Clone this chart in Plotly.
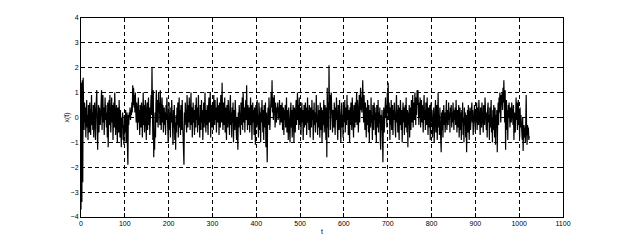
import plotly.graph_objects as go

# Signal values x(t), 64 per row
row00 = [-3.7, 1.4, -3.4, 1.5, -2.6, 1.6, 0.3, -0.5, 0.6, -0.2, 0.4, -0.8, 0.2, 0.7, -0.4, 0.1, -0.9, 0.5, 0.3, -0.6, 0.6, -0.1, -0.7, 0.4, 0.9, -0.3, 0.2, -0.5, 0.5, -0.8, 0.1, 0.6, -0.2, -0.9, 0.3, 0.8, 1.1, -0.4, -1.3, -0.2, 0.5, -0.6, 0.4, 0.1, -0.3, 0.7, 0.2, 1.1, -0.5, 0.6, 0.9, -0.2, 0.4, -0.7, 0.3, 0.8, -0.1, 0.5, -0.4, 0.2, -0.8, 0.6, -1.2, 0.3]
row01 = [0.7, -0.3, 0.9, 0.1, -0.6, 0.4, 0.8, -0.2, 0.5, -0.9, 0.2, 0.6, -0.4, 1.0, 0.3, -0.7, 0.1, 0.5, -0.3, -1.0, 0.4, 0.2, -0.6, 0.7, -0.1, -0.8, 0.3, -0.5, -1.2, 0.0, -0.4, 0.2, -0.9, -0.3, -1.1, 0.1, -0.6, -0.2, 0.3, -1.0, -0.5, 0.2, -1.2, -1.9, 0.1, -0.3, 0.2, 0.0, 0.4, -0.1, 0.3, 0.1, 0.6, 0.2, 1.3, 0.5, 1.2, 0.4, 0.9, 0.2, 1.0, 0.3, -0.2, 0.6]
row02 = [0.1, -0.5, 0.4, 0.8, -0.2, 0.3, -0.7, 0.5, 0.0, -0.4, 0.6, 0.2, -0.8, 0.4, 1.0, -0.3, 0.5, -0.6, 0.2, 0.7, -0.1, -0.9, 0.3, 0.6, -0.5, 0.1, 0.8, -0.3, 0.4, -0.7, 0.2, -0.2, 0.9, 0.1, 2.0, 0.4, -0.9, 1.1, -1.6, -0.6, -1.3, 0.2, -0.8, 0.5, 1.1, -0.2, 0.7, 0.3, -0.4, 1.0, 0.2, 0.6, -0.3, 1.1, 0.4, -0.5, 0.3, 0.8, -0.2, 0.5, -0.6, 0.1, 0.4, -0.3]
row03 = [0.2, -0.7, 0.5, -0.1, 0.8, -0.4, 0.3, -1.0, 0.1, 0.6, -0.5, 0.2, -0.8, 0.4, -0.2, 0.7, -0.6, 0.0, -1.1, 0.3, -0.4, 0.5, -0.9, -0.2, -1.3, 0.1, -0.6, 0.4, -0.3, 0.6, -0.8, 0.2, 0.8, -0.4, 0.3, -0.7, 0.5, 0.1, -0.5, 0.7, -0.2, -0.9, -0.4, -1.9, 0.2, -0.3, 0.6, -0.1, 0.4, -0.6, 0.9, 0.2, -0.4, 0.5, -0.2, 0.8, 0.0, -0.5, 0.3, 1.0, -0.3, 0.4, -0.8, 0.2]
row04 = [0.6, -0.2, 0.3, -0.7, 0.1, 0.5, -0.4, 0.8, -0.1, 0.4, -0.6, 0.2, 0.9, -0.3, 0.0, -0.8, 0.5, 0.2, -0.5, 0.7, -0.2, 0.3, -0.9, 0.1, 0.6, -0.4, 0.4, 1.0, -0.1, -0.6, 0.3, -0.3, 0.5, 0.0, -0.7, 0.4, 0.8, -0.2, 0.2, 1.0, -0.8, 0.5, 0.1, -0.4, 0.6, 0.3, -0.5, 0.9, 0.2, -0.3, 0.7, -0.1, 0.4, -0.6, 0.3, 0.8, -0.2, 0.5, 0.1, -0.7, 0.6, 0.2, -0.4, 0.9]
row05 = [0.3, -0.2, 1.4, 0.1, -0.5, 0.6, 0.2, -0.3, 0.8, -0.6, 0.4, 0.0, -0.9, 0.5, 0.2, -0.4, 0.7, -0.1, 0.3, -0.7, 0.5, 0.9, -0.3, 0.2, -0.8, 0.4, -0.2, 0.6, -1.0, 0.1, 0.3, -0.5, 0.7, -0.2, 0.4, -0.9, 0.0, -0.6, -1.3, 0.2, -0.4, 0.5, -0.1, 0.3, -0.7, 0.6, 0.1, -0.3, 0.8, -0.5, 1.0, 0.2, -0.2, 0.4, -0.6, 0.3, 0.7, -0.1, 1.3, 0.2, -0.5, 0.5, 0.0, -0.3]
row06 = [0.4, -0.6, 0.2, 0.8, -0.3, 0.5, -0.9, 0.1, 0.6, -0.2, 0.3, -0.7, 0.4, 0.0, -1.1, 0.5, 0.2, -0.4, 0.7, -0.3, 0.1, -0.8, 0.6, 0.3, -0.5, 0.2, -1.0, 0.4, -0.2, 0.7, 0.1, -0.6, 0.3, -0.9, 0.5, 0.0, -0.4, 0.6, -1.2, 0.2, -0.7, -1.8, 0.1, 0.4, -0.3, 0.8, 0.2, -0.5, 0.6, 0.3, 1.0, 0.4, 1.5, 0.2, 0.8, -0.1, 0.5, 0.9, 0.3, -0.4, 0.6, 0.1, -0.2, 0.4]
row07 = [0.2, 0.6, -0.1, 0.4, 0.0, 0.7, -0.3, 0.3, 0.5, -0.2, 0.2, 0.6, -0.5, 0.1, 0.4, -0.7, 0.3, -0.1, 0.5, -0.4, 0.2, 0.8, -0.6, 0.0, 0.3, -0.9, 0.4, -0.3, 0.1, -1.0, 0.2, 0.6, -0.4, 0.3, -0.8, 0.1, 0.5, -0.2, -1.0, 0.4, 0.0, -0.6, 0.3, 0.7, -0.3, 0.2, 1.0, -0.1, 0.5, -0.5, 0.8, 0.1, -0.3, 0.4, -0.7, 0.2, 0.6, -0.2, 0.3, -0.9, 0.1, 0.5, -0.4, 0.2]
row08 = [0.6, -0.3, 0.4, -0.7, 0.2, 0.8, -0.2, 0.3, -0.5, 0.5, 0.0, -0.8, 0.4, 0.2, -0.4, 0.7, -0.1, 0.3, -0.9, 0.1, 0.6, -0.3, 0.2, -0.6, 0.4, 0.9, -0.2, 0.1, -0.7, 0.5, -0.4, 0.3, 0.0, -0.8, 0.6, 0.2, -0.5, 0.4, -1.0, 0.1, 0.3, -0.3, 0.7, -0.6, 0.2, 0.5, -0.2, -0.9, 0.4, -1.6, 1.2, -0.4, 0.6, -0.8, 2.1, 0.3, 0.9, -0.5, 0.4, 1.0, -0.2, 0.5, -0.6, 0.3]
row09 = [0.1, -0.4, 0.6, 0.2, -0.7, 0.4, -0.1, 0.8, -0.3, 0.3, -0.9, 0.5, 0.0, -0.5, 0.7, -0.2, 0.4, -1.0, 0.2, 0.6, -0.4, 0.1, -0.8, 0.5, 0.3, -0.2, 0.7, -0.6, 0.2, 0.4, -0.3, 0.9, -0.1, 0.5, -0.7, 0.3, 0.0, -1.0, 0.4, -0.3, 0.6, 0.2, -0.5, 0.8, -0.1, 0.3, -0.8, 0.5, 0.1, -0.4, 0.6, -0.2, 0.4, 1.0, -0.3, 0.7, 0.2, -0.6, 0.5, 0.9, -0.2, 0.4, 1.2, 0.3]
row10 = [0.8, 0.2, 1.1, 1.5, 0.4, -0.2, 0.9, 0.3, -0.5, 0.6, 0.1, -0.8, 0.4, -0.3, 0.7, 0.0, -0.6, 0.5, -1.0, 0.2, 0.3, -0.4, 0.8, -0.2, 0.1, -0.9, 0.5, 0.3, -0.5, 0.6, -0.1, 0.4, -0.7, 0.2, -1.0, 0.5, 0.0, -0.4, 0.7, -0.6, 0.2, -0.2, 0.4, -0.9, -1.3, 0.1, -0.5, 0.3, -0.8, -1.8, -0.2, 0.4, -0.6, 0.2, -0.3, 0.8, 0.0, 0.5, -0.4, 1.0, 0.3, 1.4, -0.1, 0.6]
row11 = [0.2, -0.9, 0.4, -0.3, 0.7, -0.5, 0.1, 0.5, -0.7, 0.3, -0.1, 0.6, -0.4, 0.2, -0.8, 0.4, 0.9, -0.2, 0.3, -0.6, 0.5, 0.0, -0.9, 0.4, -0.3, 0.7, 0.1, -0.5, 0.3, -1.0, 0.2, 0.6, -0.2, 0.4, -0.7, 0.1, 0.5, -0.4, 0.8, -0.1, -0.6, 0.3, -1.2, 0.2, -0.3, 0.5, -0.8, 0.1, 0.4, -0.5, 0.7, -0.2, 0.3, 0.9, -0.4, 0.2, 0.6, -0.1, 1.0, 0.3, -0.3, 0.8, 0.1, 1.1]
row12 = [0.5, 1.1, 0.2, -0.3, 0.6, 0.0, 0.8, -0.4, 0.3, 0.7, -0.2, 0.5, 0.1, -0.6, 0.4, 0.9, -0.1, 0.3, -0.5, 0.6, 0.2, -0.3, 0.8, 0.0, -0.7, 0.4, 0.1, -0.4, 0.5, -0.9, 0.2, 0.6, -0.2, 0.3, -0.8, 0.1, -0.5, 0.4, -1.0, 0.2, -0.3, 0.7, -0.6, 0.0, 0.5, -0.9, 0.3, 1.0, -0.4, 0.1, -0.7, 0.4, -0.2, -0.9, -1.4, 0.2, -0.5, 0.3, -0.8, 0.1, 0.5, -0.3, 0.2, -0.6]
row13 = [0.4, -0.2, 0.7, -0.5, 0.1, 0.3, -0.3, 0.6, -0.1, 0.2, -0.6, 0.4, 0.0, 0.5, -0.4, 0.2, -0.2, 0.6, 0.1, -0.5, 0.3, -0.1, 0.4, -0.3, 0.7, 0.0, -0.6, 0.3, 0.2, -0.4, 0.5, -0.8, 0.1, 0.4, -0.5, 0.2, -0.9, 0.3, -0.2, 0.6, -0.7, 0.0, -1.0, 0.4, -0.3, 0.2, -0.8, 0.1, -1.4, -0.4, 0.3, -0.6, 0.5, -0.1, -0.9, 0.2, 0.4, -0.5, 0.1, -0.3, 0.6, -0.2, 0.3, -0.7]
row14 = [0.2, -0.4, 0.5, 0.0, -0.6, 0.3, -0.2, 0.6, -0.5, 0.1, 0.4, -0.3, 0.7, -0.1, 0.2, -0.7, 0.4, 0.0, -0.4, 0.6, -0.2, 0.3, -0.6, 0.5, 0.1, -0.3, 0.8, -0.1, 0.4, -0.5, 0.2, -0.8, 0.3, 0.6, -0.2, 0.1, -0.9, 0.4, -0.4, 0.2, 0.7, -0.6, 0.0, -1.0, 0.3, -0.5, 0.5, -0.2, -0.8, 0.4, -1.1, 0.1, -0.4, 0.3, -1.4, 0.0, 0.6, -0.3, 0.8, 0.2, 1.0, 0.4, -0.2, 0.9]
row15 = [0.5, 1.0, 0.3, 1.2, 0.6, 1.5, 0.8, -0.2, 1.1, -1.3, 0.4, 0.7, -0.5, 0.3, -0.9, 0.5, 0.0, 0.6, 0.2, -0.4, 0.4, 0.1, -0.2, 0.6, 0.0, 0.3, -0.3, 0.5, -0.9, 0.2, 0.1, -0.6, 0.4, 0.8, -0.1, 0.6, -0.5, 0.3, 0.7, -0.3, 0.2, -0.8, 0.4, -0.4, 0.1, -0.6, -0.2, -0.9, 0.0, -1.35, -0.5, -0.3, -0.8, -0.4, -1.0, -0.2, 0.9, -0.6, -1.1, -0.3, -0.7, -0.4, -0.9, -0.75]

signal = (row00 + row01 + row02 + row03 + row04 + row05 + row06 + row07
          + row08 + row09 + row10 + row11 + row12 + row13 + row14 + row15)
t = list(range(len(signal)))

x_ticks = [0, 100, 200, 300, 400, 500, 600, 700, 800, 900, 1000, 1100]
y_ticks = [-4, -3, -2, -1, 0, 1, 2, 3, 4]

fig = go.Figure()
fig.add_trace(go.Scatter(x=t, y=signal, mode="lines",
                         line=dict(color="black", width=1.2), hoverinfo="skip"))

axis_common = dict(
    showline=True, linecolor="black", linewidth=1, mirror="ticks",
    ticks="inside", ticklen=4, tickcolor="black", tickwidth=1,
    showgrid=True, gridcolor="black", gridwidth=1, griddash="4px,3px",
    zeroline=False, tickfont=dict(family="Liberation Sans, Arial", size=7, color="black"),
)

fig.update_layout(
    width=623, height=245,
    margin=dict(l=81, r=60, t=18, b=28),
    paper_bgcolor="white", plot_bgcolor="white",
    showlegend=False,
    xaxis=dict(range=[0, 1100], tickvals=x_ticks,
               title=dict(text="t", standoff=2,
                          font=dict(family="Liberation Sans, Arial", size=7, color="black")),
               **axis_common),
    yaxis=dict(range=[-4, 4], tickvals=y_ticks,
               title=dict(text="x(t)", standoff=0,
                          font=dict(family="Liberation Sans, Arial", size=7, color="black")),
               **axis_common),
)

fig.write_html("out.html")
